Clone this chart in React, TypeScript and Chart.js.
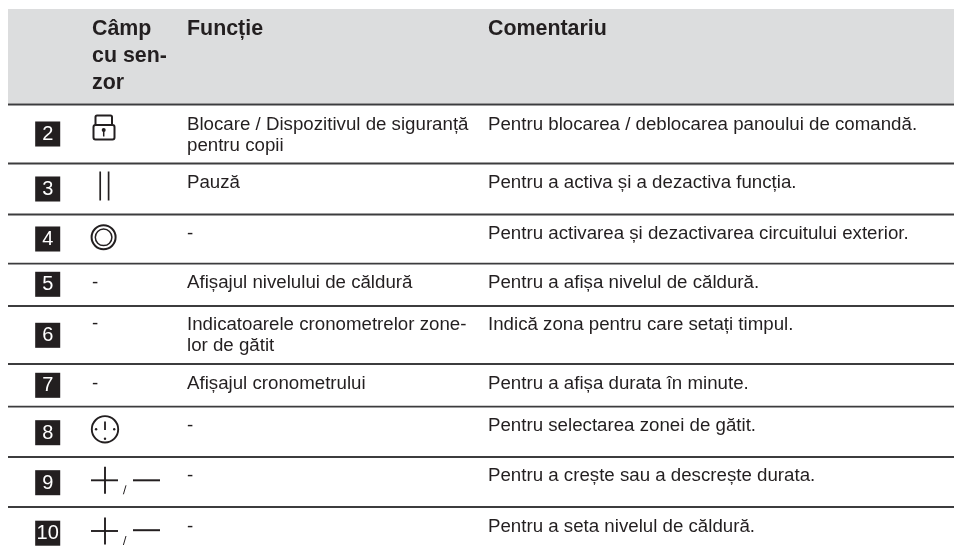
import React, { useEffect, useRef } from "react";
import { Chart, registerables } from "chart.js";

Chart.register(...registerables);

// ---- content ----
const headerSensor = ["Câmp", "cu sen-", "zor"];
const headerFunction = "Funcție";
const headerComment = "Comentariu";
const rowNumbers = ["2", "3", "4", "5", "6", "7", "8", "9", "10"];
const sensorDashes = [false, false, false, true, true, true, false, false, false];
const functions = [
  ["Blocare / Dispozitivul de siguranță", "pentru copii"],
  ["Pauză"],
  ["-"],
  ["Afișajul nivelului de căldură"],
  ["Indicatoarele cronometrelor zone-", "lor de gătit"],
  ["Afișajul cronometrului"],
  ["-"],
  ["-"],
  ["-"],
];
const comments = [
  "Pentru blocarea / deblocarea panoului de comandă.",
  "Pentru a activa și a dezactiva funcția.",
  "Pentru activarea și dezactivarea circuitului exterior.",
  "Pentru a afișa nivelul de căldură.",
  "Indică zona pentru care setați timpul.",
  "Pentru a afișa durata în minute.",
  "Pentru selectarea zonei de gătit.",
  "Pentru a crește sau a descrește durata.",
  "Pentru a seta nivelul de căldură.",
];

// ---- table geometry, in axis units ----
const ruleRows = [104.5, 163.5, 214.5, 263.7, 306, 364, 406.7, 457, 507];
const badgeRows = [134, 189, 239, 284.3, 335.3, 385.3, 432.7, 482.7, 533.2];
const firstBaselines = [130.3, 188, 238.6, 288, 330, 388.8, 431.2, 481, 531.5];
const sensorDashBaselines = [0, 0, 0, 287.6, 328.6, 388.6, 0, 0, 0];
const INK = "#231f20";
const FONT = '"Liberation Sans", Arial, sans-serif';

const tablePlugin = {
  id: "table",
  beforeDatasetsDraw(chart: any) {
    const { ctx, scales: { x, y } } = chart;
    ctx.save();
    ctx.fillStyle = "#dcddde";
    ctx.fillRect(x.getPixelForValue(8), y.getPixelForValue(9), x.getPixelForValue(954) - x.getPixelForValue(8), y.getPixelForValue(103.5) - y.getPixelForValue(9));
    ctx.restore();
  },
  afterDatasetsDraw(chart: any) {
    const { ctx, scales: { x, y } } = chart;
    const X = (v: number) => x.getPixelForValue(v);
    const Y = (v: number) => y.getPixelForValue(v);
    ctx.save();
    ctx.textBaseline = "alphabetic";
    ctx.textAlign = "left";
    ctx.fillStyle = INK;

    ctx.font = `bold 21.4px ${FONT}`;
    headerSensor.forEach((t, i) => ctx.fillText(t, X(92), Y([34.7, 61.5, 89.3][i])));
    ctx.fillText(headerFunction, X(187), Y(34.7));
    ctx.fillText(headerComment, X(488), Y(34.7));

    ctx.font = `18.7px ${FONT}`;
    functions.forEach((lines, r) => {
      lines.forEach((t, i) => ctx.fillText(t, X(187), Y(firstBaselines[r] + i * 20.6)));
    });
    comments.forEach((t, r) => ctx.fillText(t, X(488), Y(firstBaselines[r])));
    sensorDashes.forEach((d, r) => {
      if (d) ctx.fillText("-", X(92), Y(sensorDashBaselines[r]));
    });

    ctx.textAlign = "center";
    ctx.textBaseline = "middle";
    ctx.fillStyle = "#ffffff";
    rowNumbers.forEach((t, r) => {
      ctx.font = `20px ${FONT}`;
      ctx.fillText(t, X(47.7), Y(badgeRows[r]) + 0.5);
    });

    // sensor icons
    ctx.strokeStyle = INK;
    ctx.fillStyle = INK;
    const line = (a: number, b: number, c: number, d: number, w: number) => {
      ctx.lineWidth = w;
      ctx.beginPath();
      ctx.moveTo(X(a), Y(b));
      ctx.lineTo(X(c), Y(d));
      ctx.stroke();
    };
    const ring = (a: number, b: number, rad: number, w: number) => {
      ctx.lineWidth = w;
      ctx.beginPath();
      ctx.arc(X(a), Y(b), rad, 0, Math.PI * 2);
      ctx.stroke();
    };
    // lock
    ctx.lineWidth = 2;
    ctx.beginPath();
    ctx.roundRect(X(93.5), Y(125), 21, 14.5, 2);
    ctx.stroke();
    ctx.beginPath();
    ctx.moveTo(X(95.5), Y(125));
    ctx.lineTo(X(95.5), Y(117));
    ctx.arcTo(X(95.5), Y(115.5), X(97), Y(115.5), 1.5);
    ctx.lineTo(X(110.5), Y(115.5));
    ctx.arcTo(X(112), Y(115.5), X(112), Y(117), 1.5);
    ctx.lineTo(X(112), Y(125));
    ctx.stroke();
    ctx.beginPath();
    ctx.arc(X(103.7), Y(130), 2, 0, Math.PI * 2);
    ctx.fill();
    line(103.7, 131, 103.7, 136.5, 1.5);
    // pause
    line(100.2, 171.5, 100.2, 200.5, 1.7);
    line(108.6, 171.5, 108.6, 200.5, 1.7);
    // circuit
    ring(103.6, 237.3, 12, 2);
    ring(103.6, 237.3, 8.3, 1.5);
    // clock
    ring(105, 429.3, 13.2, 1.9);
    line(105, 421.5, 105, 430, 1.8);
    [[96.1, 429.3], [114.2, 429.3], [105, 438.7]].forEach(([a, b]) => {
      ctx.beginPath();
      ctx.arc(X(a), Y(b), 1.2, 0, Math.PI * 2);
      ctx.fill();
    });
    // plus / minus
    [[480.3, 480.3], [531, 530.2]].forEach(([py, my]) => {
      line(91, py, 118, py, 1.9);
      line(105, py - 13.5, 105, py + 13.5, 1.9);
      line(123.4, py + 14, 126, py + 5, 1);
      line(133, my, 160, my, 2);
    });
    ctx.restore();
  },
};

export default function App() {
  const ref = useRef<HTMLCanvasElement>(null);
  useEffect(() => {
    const ruleSets = ruleRows.map((r) => ({
      type: "line" as const,
      data: [{ x: 8, y: r }, { x: 954, y: r }],
      borderColor: "#3c3c3e",
      borderWidth: 1.8,
      pointRadius: 0,
    }));
    const chart = new Chart(ref.current!, {
      type: "scatter",
      data: {
        datasets: [
          ...ruleSets,
          {
            type: "scatter" as const,
            data: badgeRows.map((r) => ({ x: 47.7, y: r })),
            pointStyle: "rect",
            pointRadius: 17.7,
            backgroundColor: INK,
            borderWidth: 0,
          },
        ] as any,
      },
      options: {
        animation: false,
        responsive: false,
        layout: { padding: 0, autoPadding: false },
        plugins: { legend: { display: false }, tooltip: { enabled: false } },
        scales: {
          x: { type: "linear", min: 0, max: 954, display: false },
          y: { type: "linear", min: 0, max: 553, reverse: true, display: false },
        },
      },
      plugins: [tablePlugin],
    });
    return () => chart.destroy();
  }, []);
  return (
    <div style={{ position: "fixed", left: 0, top: 0, width: 954, height: 553, background: "#fff" }}>
      <canvas ref={ref} width={954} height={553} style={{ display: "block" }} />
    </div>
  );
}
